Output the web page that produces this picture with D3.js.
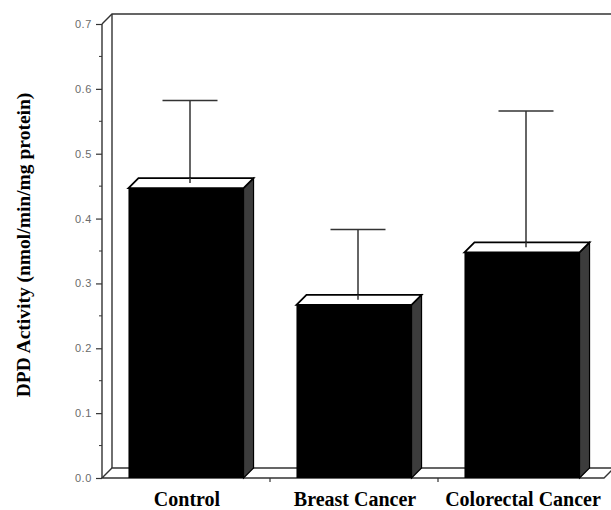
<!DOCTYPE html>
<html>
<head>
<meta charset="utf-8">
<script src="https://cdn.jsdelivr.net/npm/d3@7"></script>
<style>
  body { margin: 0; background: #fff; }
  svg { display: block; }
</style>
</head>
<body>
<svg id="chart" width="611" height="510"></svg>
<script>
// data
let groups = ["Control", "Breast Cancer", "Colorectal Cancer"];
let means = [0.447, 0.267, 0.348];
let sdUp = [0.135, 0.116, 0.218];
let yTicks = [0, 0.1, 0.2, 0.3, 0.4, 0.5, 0.6, 0.7];
let yMinor = [0.05, 0.15, 0.25, 0.35, 0.45, 0.55, 0.65];

let svg = d3.select("#chart");
let depthX = 10, depthY = 10; // 3d offset of back wall
let axisX = 102;
let lineCol = "#333";

let yScale = d3.scaleLinear().domain([0, 0.7]).range([478, 24]);
let xScale = d3.scaleBand()
    .domain(groups)
    .range([102, 606])
    .paddingInner(0.315)
    .paddingOuter(0.1575);
let y0 = yScale(0);
let xRight = 604;

// back wall + floor
let frame = svg.append("g").attr("fill", "none").attr("stroke", lineCol).attr("stroke-width", 1.4);
frame.append("path")
    .attr("d", "M" + axisX + "," + yScale(0.7) + "L" + (axisX + depthX) + "," + (yScale(0.7) - depthY)
        + "L" + 611 + "," + (yScale(0.7) - depthY));
frame.append("line")
    .attr("x1", axisX + depthX).attr("x2", axisX + depthX)
    .attr("y1", yScale(0.7) - depthY).attr("y2", y0 - depthY);
frame.append("path")
    .attr("d", "M" + axisX + "," + y0 + "L" + (axisX + depthX) + "," + (y0 - depthY)
        + "L" + (xRight + depthX) + "," + (y0 - depthY) + "L" + xRight + "," + y0 + "Z");

// y axis
let yAxis = d3.axisLeft(yScale)
    .tickValues(yTicks)
    .tickSize(6)
    .tickPadding(4)
    .tickFormat(d3.format(".1f"));
let gy = svg.append("g").attr("transform", "translate(" + axisX + ",0)").call(yAxis);
gy.select(".domain").attr("stroke", lineCol).attr("stroke-width", 1.4)
    .attr("d", "M0," + y0 + "V" + yScale(0.7));
gy.selectAll(".tick line").attr("stroke", lineCol).attr("stroke-width", 1.2);
gy.selectAll(".tick text")
    .attr("fill", "#6a6a6a")
    .style("font-family", "Arial, 'Liberation Sans', sans-serif")
    .style("font-size", "11px")
    .style("letter-spacing", "0.6px");
svg.append("g").selectAll("line")
    .data(yMinor)
    .enter()
    .append("line")
    .attr("x1", axisX - 3).attr("x2", axisX)
    .attr("y1", d => yScale(d)).attr("y2", d => yScale(d))
    .attr("stroke", lineCol).attr("stroke-width", 1);

// x ticks between groups
let xBounds = groups.slice(1).map(g => xScale(g) - xScale.step() * xScale.paddingInner() / 2);
svg.append("g").selectAll("line")
    .data(xBounds)
    .enter()
    .append("line")
    .attr("x1", d => d).attr("x2", d => d)
    .attr("y1", y0).attr("y2", y0 + 4)
    .attr("stroke", lineCol).attr("stroke-width", 1.2);

// error bars (drawn behind bars)
let bw = xScale.bandwidth();
let capW = 55;
let gErr = svg.append("g").attr("stroke", lineCol).attr("stroke-width", 1.5);
groups.forEach(function(g, i) {
    let cx = xScale(g) + bw / 2 + depthX / 2 - 1;
    let yTop = yScale(means[i] + sdUp[i]);
    gErr.append("line")
        .attr("x1", cx).attr("x2", cx)
        .attr("y1", yScale(means[i]) - depthY / 2).attr("y2", yTop);
    gErr.append("line")
        .attr("x1", cx - capW / 2).attr("x2", cx + capW / 2)
        .attr("y1", yTop).attr("y2", yTop);
});

// 3d bars
let gBars = svg.append("g");
groups.forEach(function(g, i) {
    let x0 = xScale(g), x1 = x0 + bw;
    let yt = yScale(means[i]);
    // side face
    gBars.append("path")
        .attr("d", "M" + x1 + "," + yt + "L" + (x1 + depthX) + "," + (yt - depthY)
            + "L" + (x1 + depthX) + "," + (y0 - depthY) + "L" + x1 + "," + y0 + "Z")
        .attr("fill", "#3c3c3c").attr("stroke", "#000").attr("stroke-width", 1.2);
    // top face
    gBars.append("path")
        .attr("d", "M" + x0 + "," + yt + "L" + (x0 + depthX) + "," + (yt - depthY)
            + "L" + (x1 + depthX) + "," + (yt - depthY) + "L" + x1 + "," + yt + "Z")
        .attr("fill", "#fff").attr("stroke", "#000").attr("stroke-width", 1.8);
    // front face
    gBars.append("rect")
        .attr("x", x0).attr("y", yt)
        .attr("width", bw).attr("height", y0 - yt)
        .attr("fill", "#000");
});

// the error bar stems start on the top face, redraw the visible part over it
groups.forEach(function(g, i) {
    let cx = xScale(g) + bw / 2 + depthX / 2 - 1;
    gBars.append("line")
        .attr("x1", cx).attr("x2", cx)
        .attr("y1", yScale(means[i]) - depthY / 2).attr("y2", yScale(means[i]) - depthY)
        .attr("stroke", lineCol).attr("stroke-width", 1.5);
});

// category labels
svg.append("g").selectAll("text")
    .data(groups)
    .enter()
    .append("text")
    .attr("x", d => xScale(d) + bw / 2 + 1)
    .attr("y", 506)
    .attr("text-anchor", "middle")
    .style("font-family", "'Liberation Serif', 'Times New Roman', serif")
    .style("font-weight", "bold")
    .style("font-size", "20px")
    .text(d => d);

// y axis title
svg.append("text")
    .attr("transform", "translate(30,245) rotate(-90)")
    .attr("text-anchor", "middle")
    .style("font-family", "'Liberation Serif', 'Times New Roman', serif")
    .style("font-weight", "bold")
    .style("font-size", "19.5px")
    .text("DPD Activity (nmol/min/mg protein)");
</script>
</body>
</html>
